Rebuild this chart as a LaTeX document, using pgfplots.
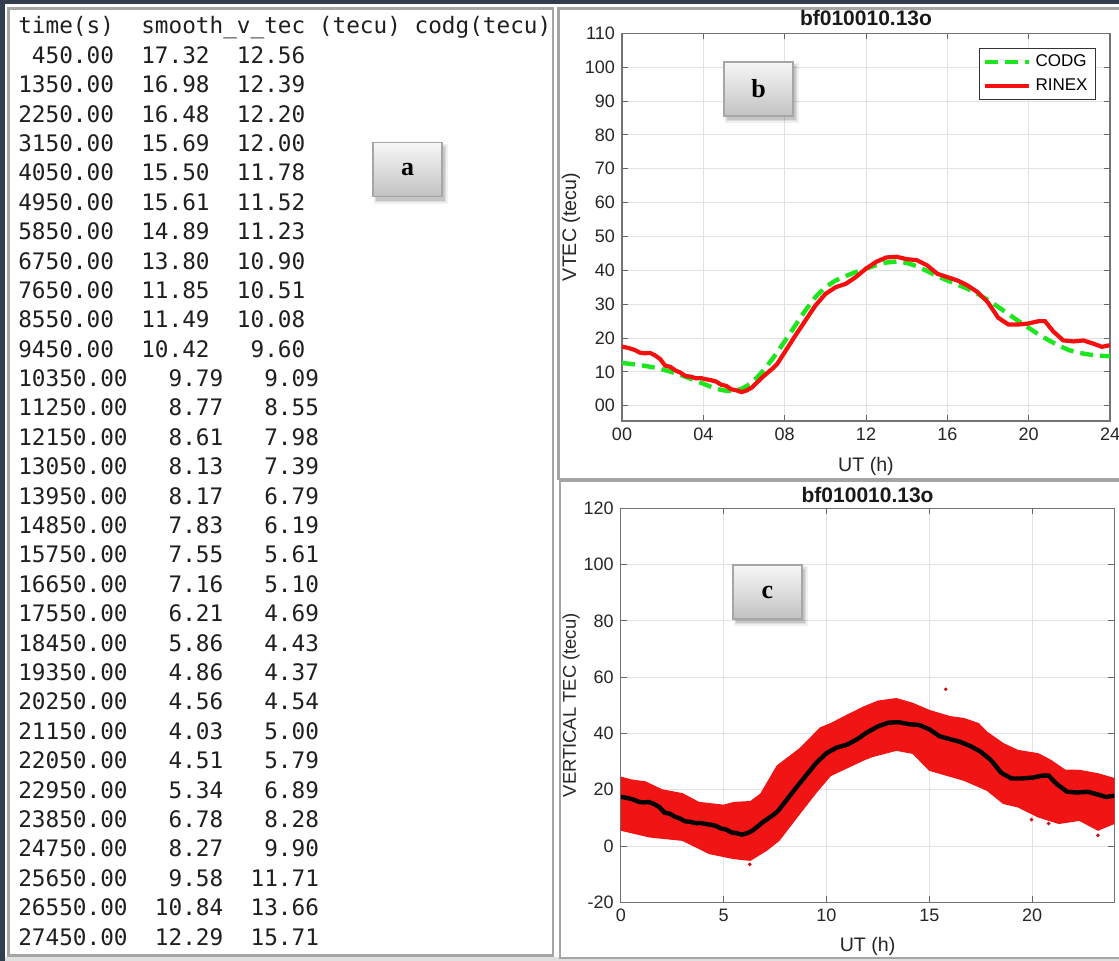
\documentclass[border=0pt]{standalone}
\usepackage{pgfplots}
\pgfplotsset{compat=1.18}
\usepackage{pgfplotstable}
\usepackage{fontspec}
\setmainfont{Liberation Sans}
\newfontfamily\monofont{DejaVu Sans Mono}
\newfontfamily\boxfont{Liberation Serif}

\definecolor{frameblue}{RGB}{50,62,80}
\definecolor{panelgray}{RGB}{165,165,165}
\definecolor{codggreen}{RGB}{30,230,30}
\definecolor{rinexred}{RGB}{245,15,15}
\definecolor{bandred}{RGB}{240,20,20}
\definecolor{txt}{RGB}{38,38,38}
\definecolor{gridc}{RGB}{226,226,226}

% RINEX smoothed vertical TEC (hours, tecu)
\pgfplotstableread{
h v
0 17.5
0.125 17.32
0.375 16.98
0.625 16.48
0.875 15.69
1.125 15.50
1.375 15.61
1.625 14.89
1.875 13.80
2.125 11.85
2.375 11.49
2.625 10.42
2.875 9.79
3.125 8.77
3.375 8.61
3.625 8.13
3.875 8.17
4.125 7.83
4.375 7.55
4.625 7.16
4.875 6.21
5.125 5.86
5.375 4.86
5.625 4.56
5.875 4.03
6.125 4.51
6.375 5.34
6.625 6.78
6.875 8.27
7.125 9.58
7.375 10.84
7.625 12.29
8.0 15.8
8.5 20.5
9.0 25.0
9.5 29.5
10.0 33.0
10.5 35.0
11.0 36.0
11.5 38.0
12.0 40.5
12.5 42.5
13.0 43.8
13.5 44.0
14.0 43.3
14.5 43.0
15.0 41.5
15.5 39.0
16.0 38.0
16.5 37.0
17.0 35.5
17.5 33.5
18.0 30.5
18.5 26.0
19.0 24.0
19.5 24.0
20.0 24.3
20.5 25.0
20.8 25.0
21.2 22.0
21.7 19.3
22.2 19.0
22.7 19.3
23.2 18.3
23.6 17.4
24.0 17.9
}\rinex

% CODG vertical TEC (hours, tecu)
\pgfplotstableread{
h v
0 12.7
0.125 12.56
0.375 12.39
0.625 12.20
0.875 12.00
1.125 11.78
1.375 11.52
1.625 11.23
1.875 10.90
2.125 10.51
2.375 10.08
2.625 9.60
2.875 9.09
3.125 8.55
3.375 7.98
3.625 7.39
3.875 6.79
4.125 6.19
4.375 5.61
4.625 5.10
4.875 4.69
5.125 4.43
5.375 4.37
5.625 4.54
5.875 5.00
6.125 5.79
6.375 6.89
6.625 8.28
6.875 9.90
7.125 11.71
7.375 13.66
7.625 15.71
8.0 19.0
8.5 23.5
9.0 28.0
9.5 32.0
10.0 35.0
10.5 37.0
11.0 38.3
11.5 39.5
12.0 40.5
12.5 41.5
13.0 42.3
13.5 42.6
14.0 42.2
14.5 41.2
15.0 39.8
15.5 38.3
16.0 37.0
16.5 35.8
17.0 34.5
17.5 33.0
18.0 31.2
18.5 29.2
19.0 27.1
19.5 25.0
20.0 23.0
20.5 21.0
21.0 19.3
21.5 17.7
22.0 16.4
22.5 15.6
23.0 15.1
23.5 14.8
24.0 14.6
}\codg

\pgfplotsset{
  every axis title shift=0pt,
  matlab/.style={
    scale only axis, anchor=south west,
    axis line style={draw=black!55, line width=0.6pt},
    tick style={black!60, line width=0.5pt},
    major tick length=3pt,
    tick align=inside, tick pos=both,
    grid=major, grid style={gridc, line width=0.5pt},
    ticklabel style={font=\fontsize{9}{10}\selectfont, text=txt},
    /pgf/number format/assume math mode=true,
    label style={font=\fontsize{9.8}{11}\selectfont, text=txt},
    title style={font=\bfseries\fontsize{10.5}{12}\selectfont, text=black!90,
      at={(axis description cs:0.5,1)}, anchor=center},
  }
}

% grey label box with a soft shadow, top-left corner in px
\newcommand\lbox[3]{%
  \fill[black, opacity=0.06] (#1+1,#2+1) rectangle ++(74,60);
  \fill[black, opacity=0.08] (#1+2,#2+2) rectangle ++(71,57);
  \fill[black, opacity=0.10] (#1+3,#2+4) rectangle ++(69,54);
  \shade[top color=white!97!black, bottom color=black!24, draw=black!35, line width=0.7pt]
    (#1,#2) rectangle ++(69,54);
  \node[font=\boxfont\bfseries\fontsize{13}{14}\selectfont] at (#1+34.5,#2+27) {#3};
}

\begin{document}
\begin{tikzpicture}
\useasboundingbox (0,0) rectangle (559.5pt,-480.5pt);
\fill[white] (0,0) rectangle (559.5pt,-480.5pt);

\begin{scope}[x=0.5pt,y=-0.5pt]
  % window frame and panel borders
  \fill[black!12] (0,957) rectangle (1119,961);
  \draw[panelgray, line width=1.2pt] (8.5,8.5) rectangle (553,955.5);
  \draw[panelgray, line width=1.2pt] (1119,8.5) -- (558.5,8.5) -- (558.5,479) -- (1119,479);
  \draw[panelgray, line width=1.2pt] (1119,480.5) -- (560,480.5) -- (560,958) -- (1119,958);
  \draw[frameblue, line width=3pt] (0,1.5) -- (1119,1.5);
  \draw[frameblue, line width=3pt] (1.5,0) -- (1.5,961);

  % panel a: text listing
  \node[anchor=base west, inner sep=0pt, text=black!88, font=\monofont\fontsize{11.35}{12}\selectfont]
    at (17.9,34) {time(s)~~smooth\_v\_tec~(tecu)~codg(tecu)};
  \foreach \t [count=\i from 1] in {
    ~450.00~~17.32~~12.56,
    1350.00~~16.98~~12.39,
    2250.00~~16.48~~12.20,
    3150.00~~15.69~~12.00,
    4050.00~~15.50~~11.78,
    4950.00~~15.61~~11.52,
    5850.00~~14.89~~11.23,
    6750.00~~13.80~~10.90,
    7650.00~~11.85~~10.51,
    8550.00~~11.49~~10.08,
    9450.00~~10.42~~~9.60,
    10350.00~~~9.79~~~9.09,
    11250.00~~~8.77~~~8.55,
    12150.00~~~8.61~~~7.98,
    13050.00~~~8.13~~~7.39,
    13950.00~~~8.17~~~6.79,
    14850.00~~~7.83~~~6.19,
    15750.00~~~7.55~~~5.61,
    16650.00~~~7.16~~~5.10,
    17550.00~~~6.21~~~4.69,
    18450.00~~~5.86~~~4.43,
    19350.00~~~4.86~~~4.37,
    20250.00~~~4.56~~~4.54,
    21150.00~~~4.03~~~5.00,
    22050.00~~~4.51~~~5.79,
    22950.00~~~5.34~~~6.89,
    23850.00~~~6.78~~~8.28,
    24750.00~~~8.27~~~9.90,
    25650.00~~~9.58~~11.71,
    26550.00~~10.84~~13.66,
    27450.00~~12.29~~15.71}
    \node[anchor=base west, inner sep=0pt, text=black!88, font=\monofont\fontsize{11.35}{12}\selectfont]
      at (17.9,{63.3+29.39*(\i-1)}) {\t};
\end{scope}

% panel b
\begin{axis}[matlab,
  at={(311pt,-210.5pt)}, width=244pt, height=193.85pt,
  xmin=0, xmax=24, ymin=-4.5, ymax=110,
  xtick={0,4,8,12,16,20,24}, xticklabels={00,04,08,12,16,20,24},
  ytick={0,10,20,30,40,50,60,70,80,90,100,110},
  yticklabels={00,10,20,30,40,50,60,70,80,90,100,110},
  title={bf010010.13o}, title style={yshift=7.5pt},
  xlabel={UT (h)}, xlabel style={at={(axis description cs:0.5,0)}, anchor=center, yshift=-22.8pt},
  ylabel={VTEC (tecu)}, ylabel style={at={(axis description cs:-0.1045,0.5)}, anchor=center},
  legend style={at={(1,1)}, anchor=north east, xshift=-7pt, yshift=-7.5pt,
    font=\fontsize{8.5}{9.5}\selectfont, draw=black!80, line width=0.5pt,
    inner xsep=2pt, inner ysep=1pt, row sep=0.5pt},
  legend cell align=left,
  legend image code/.code={\draw[#1] (0pt,0pt) -- (22pt,0pt);},
]
\addplot[codggreen, line width=2.2pt, dash pattern=on 6.5pt off 3.5pt] table[x=h,y=v] {\codg};
\addplot[rinexred, line width=2.1pt] table[x=h,y=v] {\rinex};
\legend{CODG,RINEX}
\end{axis}

% panel c
\begin{axis}[matlab,
  at={(310.4pt,-451.15pt)}, width=246.8pt, height=197pt,
  xmin=0, xmax=24, ymin=-20, ymax=120,
  xtick={0,5,10,15,20}, xticklabels={0,5,10,15,20},
  ytick={-20,0,20,40,60,80,100,120},
  yticklabels={-20,0,20,40,60,80,100,120},
  title={bf010010.13o}, title style={yshift=6.65pt},
  xlabel={UT (h)}, xlabel style={at={(axis description cs:0.5,0)}, anchor=center, yshift=-22.2pt},
  ylabel={VERTICAL TEC (tecu)}, ylabel style={at={(axis description cs:-0.1009,0.5)}, anchor=center,
    font=\fontsize{9.2}{11}\selectfont},
]
% dense cloud of single-satellite values: upper edge then lower edge
\addplot[fill=bandred, draw=bandred, line width=0.5pt] coordinates {
  (0,24.5) (0.5,23.5) (1.2,22.8) (2.0,20) (3.0,18.6) (3.8,15.5) (4.3,15.1)
  (5.0,14.5) (5.5,15.5) (6.3,15.8) (6.8,18.5) (7.2,23.5) (7.6,28.5) (8.7,34.6)
  (9.7,42) (10.2,43.5) (11.0,46.5) (11.8,49.4) (12.5,51.5) (13.4,52.4)
  (14.2,50.7) (15.0,48.2) (16.0,46) (16.7,45.3) (17.4,43.5) (17.8,40.5)
  (18.6,36.4) (19.3,34) (20.3,32.8) (20.9,30.5) (21.6,27) (22.3,26.9)
  (23.2,25.7) (24,24)
  (24,8) (23.2,5.6) (22.3,9.1) (21.3,8) (20.3,10.3) (19.3,13.9) (18.6,15.1)
  (17.8,19.8) (16.7,23.3) (15.0,26.9) (14.2,32.9) (13.4,34) (12.2,31.7)
  (11.8,30.5) (10.2,25) (9.5,19) (8.7,11.5) (7.7,2) (7.1,-1.5) (6.3,-5.1)
  (5.5,-4.5) (4.3,-2.7) (3.0,2.0) (1.4,3.2) (0,5.6)
} -- cycle;
\addplot[only marks, mark=*, mark size=0.7pt, bandred!85!black] coordinates {
  (15.8,55.7) (20.8,8.0) (23.2,3.8) (19.97,9.4) (6.27,-6.5)
};
\addplot[black, line width=2.2pt] table[x=h,y=v] {\rinex};
\end{axis}

\begin{scope}[x=0.5pt,y=-0.5pt]
  \lbox{373}{142.7}{a}
  \lbox{724}{62}{b}
  \lbox{733}{565}{c}
\end{scope}
\end{tikzpicture}
\end{document}
